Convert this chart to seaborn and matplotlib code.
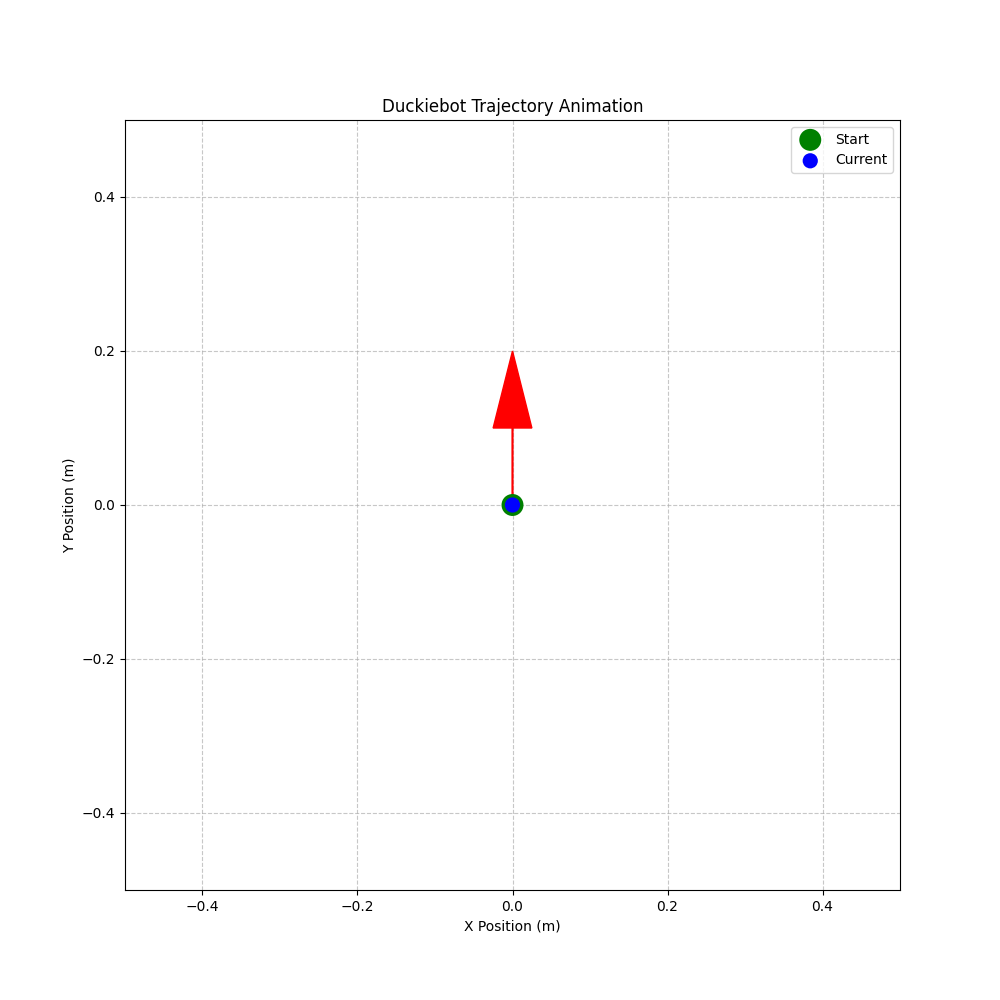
import numpy as np
import pandas as pd
import matplotlib
matplotlib.use("Agg")
import matplotlib.pyplot as plt
import seaborn as sns

# trajectory state (only the first frame)
start_x = [0.0]
start_y = [0.0]
current_x = [0.0]
current_y = [0.0]
heading = 90.0  # degrees
arrow_len = 0.1

fig, ax = plt.subplots(figsize=(10, 10), dpi=100)

sns.scatterplot(x=start_x, y=start_y, color='green', s=250, label='Start',
                edgecolor='none', zorder=3, ax=ax)
sns.scatterplot(x=current_x, y=current_y, color='blue', s=120, label='Current',
                edgecolor='none', zorder=4, ax=ax)

# heading arrow
dx = arrow_len * np.cos(np.radians(heading))
dy = arrow_len * np.sin(np.radians(heading))
ax.arrow(current_x[0], current_y[0], dx, dy, head_width=0.05, head_length=0.1,
         fc='red', ec='red', zorder=2)

ax.set_xlim(-0.5, 0.5)
ax.set_ylim(-0.5, 0.5)
ax.grid(True, linestyle='--', alpha=0.7)
ax.set_xlabel('X Position (m)')
ax.set_ylabel('Y Position (m)')
ax.set_title('Duckiebot Trajectory Animation')
ax.legend(loc='upper right')

plt.savefig('out.png')
